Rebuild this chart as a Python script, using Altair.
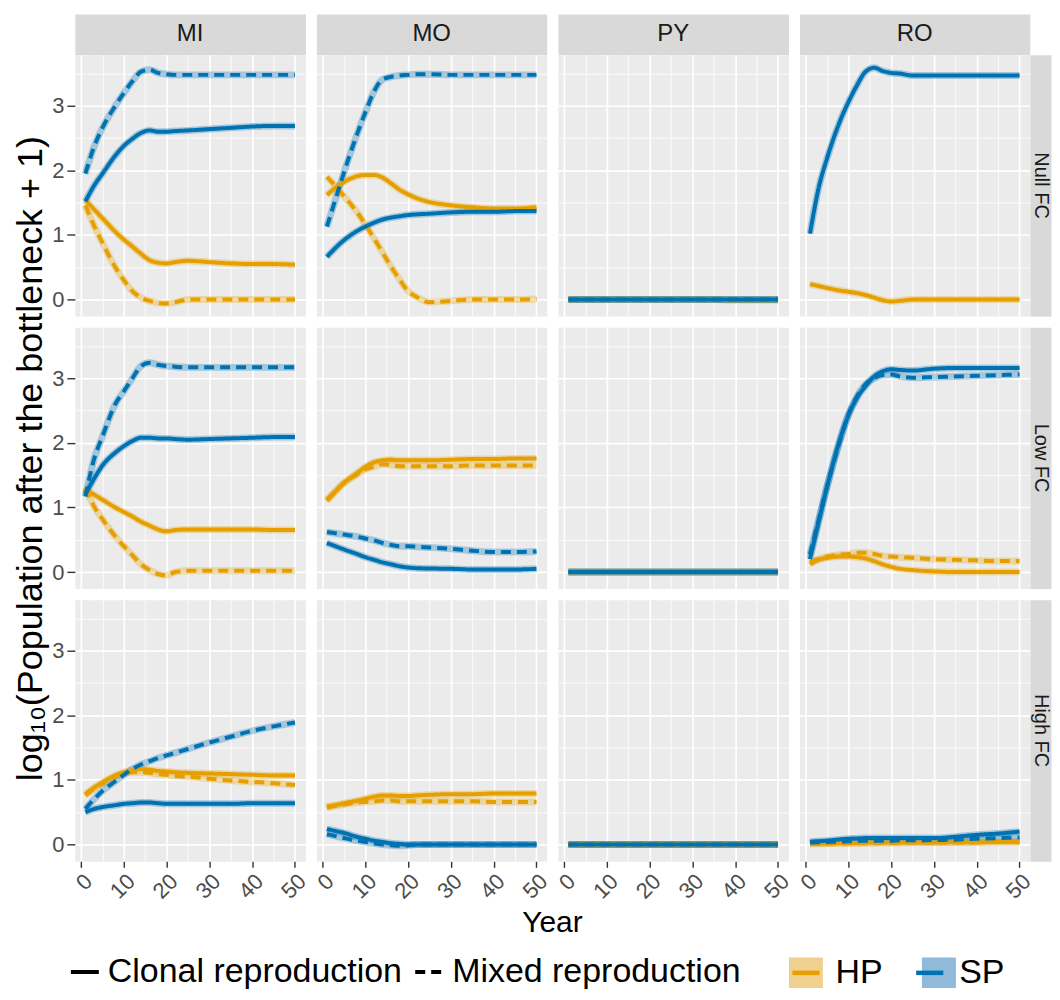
import altair as alt
import pandas as pd

FONT = "Liberation Sans"

YEARS = [1, 3, 5, 8, 10, 12, 14, 16, 18, 20, 22, 25, 30, 35, 40, 45, 50]
SITES = ["MI", "MO", "PY", "RO"]
FC_LEVELS = ["Null FC", "Low FC", "High FC"]
SPECIES = ["HP", "SP"]
KEY_VALUES = ["HP_k", "SP_k"]
REPRO = ["Clonal reproduction", "Mixed reproduction"]
LINE_COLORS = ["#E69F00", "#0072B2"]
KEY_FILLS = ["#EFD08F", "#8FBAD9"]
X_GRID = [0, 5, 10, 15, 20, 25, 30, 35, 40, 45, 50]
Y_GRID = [0, 0.5, 1, 1.5, 2, 2.5, 3, 3.5]
Y_TITLE = "log\u2081\u2080(Population after the bottleneck + 1)"
X_TITLE = "Year"

# ---------------- Null FC ----------------
MI_NULL_HP_C = [1.54, 1.40, 1.26, 1.05, 0.93, 0.82, 0.71, 0.61, 0.57, 0.56, 0.58, 0.60, 0.58, 0.56, 0.55, 0.55, 0.54]
MI_NULL_HP_M = [1.46, 1.15, 0.88, 0.50, 0.30, 0.13, 0.03, -0.02, -0.05, -0.06, -0.04, 0.00, 0.00, 0.00, 0.00, 0.00, 0.00]
MI_NULL_SP_C = [1.52, 1.76, 1.95, 2.23, 2.38, 2.49, 2.58, 2.62, 2.60, 2.60, 2.61, 2.62, 2.64, 2.66, 2.68, 2.69, 2.69]
MI_NULL_SP_M = [1.95, 2.36, 2.66, 3.00, 3.20, 3.38, 3.53, 3.56, 3.51, 3.49, 3.48, 3.48, 3.48, 3.48, 3.48, 3.48, 3.48]

MO_NULL_HP_C = [1.62, 1.73, 1.82, 1.91, 1.93, 1.93, 1.89, 1.80, 1.70, 1.63, 1.57, 1.51, 1.46, 1.43, 1.41, 1.41, 1.43]
MO_NULL_HP_M = [1.90, 1.76, 1.60, 1.36, 1.16, 0.95, 0.73, 0.51, 0.31, 0.13, 0.04, -0.04, -0.02, 0.00, 0.00, 0.00, 0.01]
MO_NULL_SP_C = [0.66, 0.80, 0.92, 1.06, 1.13, 1.19, 1.24, 1.27, 1.29, 1.31, 1.32, 1.33, 1.35, 1.36, 1.36, 1.37, 1.37]
MO_NULL_SP_M = [1.13, 1.55, 1.97, 2.55, 2.90, 3.22, 3.41, 3.45, 3.47, 3.48, 3.49, 3.49, 3.48, 3.48, 3.48, 3.48, 3.48]

PY_NULL_HP_C = [0.00, 0.00, 0.00, 0.00, 0.00, 0.00, 0.00, 0.00, 0.00, 0.00, 0.00, 0.00, 0.00, 0.00, 0.00, 0.00, 0.00]
PY_NULL_HP_M = [0.00, 0.00, 0.00, 0.00, 0.00, 0.00, 0.00, 0.00, 0.00, 0.00, 0.00, 0.00, 0.00, 0.00, -0.01, -0.01, -0.01]
PY_NULL_SP_C = [0.00, 0.00, 0.00, 0.00, 0.00, 0.00, 0.00, 0.00, 0.00, 0.00, 0.00, 0.00, 0.00, 0.00, 0.00, 0.00, 0.00]
PY_NULL_SP_M = [0.00, 0.00, 0.00, 0.00, 0.00, 0.00, 0.00, 0.00, 0.00, 0.00, 0.00, 0.00, 0.00, 0.00, 0.00, 0.00, 0.00]

RO_NULL_HP_C = [0.24, 0.21, 0.18, 0.14, 0.12, 0.10, 0.07, 0.03, -0.01, -0.03, -0.02, 0.00, 0.00, 0.00, 0.00, 0.00, 0.00]
RO_NULL_SP_C = [1.02, 1.72, 2.19, 2.76, 3.06, 3.32, 3.53, 3.59, 3.54, 3.51, 3.50, 3.47, 3.47, 3.47, 3.47, 3.47, 3.47]

# ---------------- Low FC ----------------
MI_LOW_HP_C = [1.28, 1.20, 1.12, 1.00, 0.93, 0.86, 0.78, 0.72, 0.66, 0.63, 0.65, 0.66, 0.66, 0.66, 0.66, 0.65, 0.65]
MI_LOW_HP_M = [1.30, 1.02, 0.82, 0.55, 0.40, 0.26, 0.12, 0.03, -0.03, -0.05, 0.00, 0.02, 0.02, 0.02, 0.02, 0.02, 0.02]
MI_LOW_SP_C = [1.20, 1.44, 1.65, 1.85, 1.95, 2.03, 2.08, 2.08, 2.07, 2.07, 2.06, 2.05, 2.06, 2.07, 2.08, 2.09, 2.09]
MI_LOW_SP_M = [1.17, 1.74, 2.10, 2.60, 2.80, 3.00, 3.19, 3.24, 3.21, 3.19, 3.18, 3.17, 3.17, 3.17, 3.17, 3.17, 3.17]

MO_LOW_HP_C = [1.10, 1.25, 1.38, 1.53, 1.63, 1.70, 1.73, 1.74, 1.73, 1.73, 1.73, 1.73, 1.74, 1.75, 1.75, 1.76, 1.76]
MO_LOW_HP_M = [1.12, 1.25, 1.38, 1.51, 1.59, 1.63, 1.67, 1.66, 1.64, 1.64, 1.64, 1.64, 1.64, 1.65, 1.65, 1.65, 1.65]
MO_LOW_SP_C = [0.45, 0.40, 0.35, 0.28, 0.23, 0.19, 0.15, 0.12, 0.09, 0.07, 0.06, 0.055, 0.05, 0.04, 0.04, 0.04, 0.05]
MO_LOW_SP_M = [0.62, 0.60, 0.58, 0.55, 0.52, 0.49, 0.45, 0.42, 0.40, 0.40, 0.39, 0.38, 0.36, 0.33, 0.31, 0.31, 0.32]

PY_LOW_HP_C = [0.00, 0.00, 0.00, 0.00, 0.00, 0.00, 0.00, 0.00, 0.00, 0.00, 0.00, 0.00, 0.00, 0.00, 0.00, 0.00, 0.00]
PY_LOW_HP_M = [0.00, 0.00, 0.00, 0.00, 0.00, 0.00, 0.00, 0.00, 0.00, 0.00, 0.00, 0.00, 0.00, 0.00, 0.00, 0.00, 0.00]
PY_LOW_SP_C = [0.00, 0.00, 0.00, 0.00, 0.00, 0.00, 0.00, 0.00, 0.00, 0.00, 0.00, 0.00, 0.00, 0.00, 0.00, 0.00, 0.00]
PY_LOW_SP_M = [0.00, 0.00, 0.00, 0.00, 0.00, 0.00, 0.00, 0.00, 0.00, 0.00, 0.00, 0.00, 0.00, 0.00, 0.00, 0.00, 0.00]

RO_LOW_HP_C = [0.12, 0.19, 0.22, 0.24, 0.24, 0.23, 0.21, 0.17, 0.12, 0.08, 0.05, 0.03, 0.01, 0.00, 0.00, 0.00, 0.00]
RO_LOW_HP_M = [0.15, 0.20, 0.24, 0.27, 0.28, 0.30, 0.30, 0.28, 0.25, 0.24, 0.23, 0.22, 0.20, 0.19, 0.18, 0.17, 0.17]
RO_LOW_SP_C = [0.20, 0.77, 1.32, 2.05, 2.43, 2.70, 2.88, 3.03, 3.11, 3.14, 3.13, 3.12, 3.15, 3.16, 3.16, 3.16, 3.16]
RO_LOW_SP_M = [0.27, 0.80, 1.33, 2.03, 2.44, 2.72, 2.91, 3.00, 3.05, 3.06, 3.03, 3.01, 3.02, 3.03, 3.04, 3.05, 3.06]

# ---------------- High FC ----------------
MI_HIGH_HP_C = [0.78, 0.88, 0.96, 1.07, 1.12, 1.15, 1.17, 1.16, 1.14, 1.13, 1.12, 1.11, 1.10, 1.09, 1.08, 1.07, 1.07]
MI_HIGH_HP_M = [0.76, 0.86, 0.95, 1.05, 1.10, 1.12, 1.12, 1.11, 1.09, 1.08, 1.06, 1.05, 1.02, 0.99, 0.97, 0.95, 0.92]
MI_HIGH_SP_C = [0.50, 0.55, 0.58, 0.61, 0.63, 0.64, 0.65, 0.65, 0.64, 0.63, 0.63, 0.63, 0.63, 0.63, 0.64, 0.64, 0.64]
MI_HIGH_SP_M = [0.55, 0.70, 0.83, 0.98, 1.08, 1.17, 1.24, 1.29, 1.34, 1.38, 1.42, 1.48, 1.58, 1.67, 1.76, 1.83, 1.89]

MO_HIGH_HP_C = [0.59, 0.61, 0.64, 0.68, 0.71, 0.74, 0.76, 0.76, 0.75, 0.75, 0.76, 0.77, 0.78, 0.78, 0.79, 0.79, 0.79]
MO_HIGH_HP_M = [0.57, 0.60, 0.62, 0.65, 0.66, 0.67, 0.68, 0.68, 0.67, 0.67, 0.67, 0.67, 0.67, 0.67, 0.66, 0.66, 0.66]
MO_HIGH_SP_C = [0.24, 0.21, 0.18, 0.12, 0.09, 0.06, 0.04, 0.02, 0.01, 0.00, 0.00, 0.00, 0.00, 0.00, 0.00, 0.00, 0.00]
MO_HIGH_SP_M = [0.16, 0.13, 0.10, 0.06, 0.04, 0.02, 0.00, -0.01, -0.02, -0.01, 0.00, 0.00, 0.00, 0.00, 0.00, 0.00, 0.00]

PY_HIGH_HP_C = [0.00, 0.00, 0.00, 0.00, 0.00, 0.00, 0.00, 0.00, 0.00, 0.00, 0.00, 0.00, 0.00, 0.00, 0.00, 0.00, 0.00]
PY_HIGH_HP_M = [0.00, 0.00, 0.00, 0.00, 0.00, 0.00, 0.00, 0.00, 0.00, 0.00, 0.00, 0.00, 0.00, 0.00, 0.00, 0.00, 0.00]
PY_HIGH_SP_C = [0.00, 0.00, 0.00, 0.00, 0.00, 0.00, 0.00, 0.00, 0.00, 0.00, 0.00, 0.00, 0.00, 0.00, 0.00, 0.00, 0.00]
PY_HIGH_SP_M = [0.00, 0.00, 0.00, 0.00, 0.00, 0.00, 0.00, 0.00, 0.00, 0.00, 0.00, 0.00, 0.00, 0.00, 0.00, 0.00, 0.00]

RO_HIGH_HP_C = [0.02, 0.02, 0.02, 0.025, 0.025, 0.025, 0.03, 0.03, 0.03, 0.03, 0.03, 0.03, 0.03, 0.035, 0.035, 0.04, 0.04]
RO_HIGH_HP_M = [0.01, 0.01, 0.015, 0.015, 0.02, 0.02, 0.02, 0.02, 0.025, 0.025, 0.025, 0.03, 0.03, 0.03, 0.035, 0.04, 0.04]
RO_HIGH_SP_C = [0.04, 0.05, 0.06, 0.08, 0.09, 0.095, 0.10, 0.10, 0.10, 0.10, 0.10, 0.10, 0.10, 0.12, 0.15, 0.17, 0.20]
RO_HIGH_SP_M = [0.03, 0.035, 0.04, 0.045, 0.05, 0.055, 0.06, 0.06, 0.06, 0.06, 0.065, 0.065, 0.07, 0.075, 0.09, 0.10, 0.11]

SERIES = [
    ("Null FC", "MI", "HP", REPRO[0], MI_NULL_HP_C), ("Null FC", "MI", "HP", REPRO[1], MI_NULL_HP_M),
    ("Null FC", "MI", "SP", REPRO[0], MI_NULL_SP_C), ("Null FC", "MI", "SP", REPRO[1], MI_NULL_SP_M),
    ("Null FC", "MO", "HP", REPRO[0], MO_NULL_HP_C), ("Null FC", "MO", "HP", REPRO[1], MO_NULL_HP_M),
    ("Null FC", "MO", "SP", REPRO[0], MO_NULL_SP_C), ("Null FC", "MO", "SP", REPRO[1], MO_NULL_SP_M),
    ("Null FC", "PY", "HP", REPRO[0], PY_NULL_HP_C), ("Null FC", "PY", "HP", REPRO[1], PY_NULL_HP_M),
    ("Null FC", "PY", "SP", REPRO[0], PY_NULL_SP_C), ("Null FC", "PY", "SP", REPRO[1], PY_NULL_SP_M),
    ("Null FC", "RO", "HP", REPRO[0], RO_NULL_HP_C), ("Null FC", "RO", "SP", REPRO[0], RO_NULL_SP_C),
    ("Low FC", "MI", "HP", REPRO[0], MI_LOW_HP_C), ("Low FC", "MI", "HP", REPRO[1], MI_LOW_HP_M),
    ("Low FC", "MI", "SP", REPRO[0], MI_LOW_SP_C), ("Low FC", "MI", "SP", REPRO[1], MI_LOW_SP_M),
    ("Low FC", "MO", "HP", REPRO[0], MO_LOW_HP_C), ("Low FC", "MO", "HP", REPRO[1], MO_LOW_HP_M),
    ("Low FC", "MO", "SP", REPRO[0], MO_LOW_SP_C), ("Low FC", "MO", "SP", REPRO[1], MO_LOW_SP_M),
    ("Low FC", "PY", "HP", REPRO[0], PY_LOW_HP_C), ("Low FC", "PY", "HP", REPRO[1], PY_LOW_HP_M),
    ("Low FC", "PY", "SP", REPRO[0], PY_LOW_SP_C), ("Low FC", "PY", "SP", REPRO[1], PY_LOW_SP_M),
    ("Low FC", "RO", "HP", REPRO[0], RO_LOW_HP_C), ("Low FC", "RO", "HP", REPRO[1], RO_LOW_HP_M),
    ("Low FC", "RO", "SP", REPRO[0], RO_LOW_SP_C), ("Low FC", "RO", "SP", REPRO[1], RO_LOW_SP_M),
    ("High FC", "MI", "HP", REPRO[0], MI_HIGH_HP_C), ("High FC", "MI", "HP", REPRO[1], MI_HIGH_HP_M),
    ("High FC", "MI", "SP", REPRO[0], MI_HIGH_SP_C), ("High FC", "MI", "SP", REPRO[1], MI_HIGH_SP_M),
    ("High FC", "MO", "HP", REPRO[0], MO_HIGH_HP_C), ("High FC", "MO", "HP", REPRO[1], MO_HIGH_HP_M),
    ("High FC", "MO", "SP", REPRO[0], MO_HIGH_SP_C), ("High FC", "MO", "SP", REPRO[1], MO_HIGH_SP_M),
    ("High FC", "PY", "HP", REPRO[0], PY_HIGH_HP_C), ("High FC", "PY", "HP", REPRO[1], PY_HIGH_HP_M),
    ("High FC", "PY", "SP", REPRO[0], PY_HIGH_SP_C), ("High FC", "PY", "SP", REPRO[1], PY_HIGH_SP_M),
    ("High FC", "RO", "HP", REPRO[0], RO_HIGH_HP_C), ("High FC", "RO", "HP", REPRO[1], RO_HIGH_HP_M),
    ("High FC", "RO", "SP", REPRO[0], RO_HIGH_SP_C), ("High FC", "RO", "SP", REPRO[1], RO_HIGH_SP_M),
]

rows = []
for fc, site, sp, rep, vals in SERIES:
    for yr, v in zip(YEARS, vals):
        rows.append({"fc": fc, "site": site, "species": sp, "repro": rep,
                     "series": sp + " " + rep, "year": yr, "value": v})
df = pd.DataFrame(rows)

# ---------------- layout / style ----------------
PANEL_W = 231
PANEL_H = 262
STRIP_H = 41
GAP = 10.5
RSTRIP_W = 21
PANEL_BG = "#EBEBEB"
STRIP_BG = "#D9D9D9"
LEG_FONT = 34
HP_LABEL_W = 47.2  # rendered width of the "HP" legend label


def cond(test, a, b):
    return {"condition": {"test": test, "value": a}, "value": b}


X_SCALE = alt.Scale(domain=[-1.45, 52.45], nice=False, zero=False)
Y_SCALE = alt.Scale(domain=[-0.26, 3.79], nice=False, zero=False)

LEG_Y = 941
COLOR_LEGEND = alt.Legend(
    title=None, orient="none", legendX=713, legendY=LEG_Y, direction="horizontal",
    symbolType="M-0.8,0H0.8", symbolSize=1156, symbolStrokeWidth=4.5, symbolOpacity=1,
    labelFontSize=LEG_FONT, labelColor="black", labelOffset=10, columnPadding=23,
    labelLimit=1000,
)
FILL_LEGEND = alt.Legend(
    title=None, orient="none", legendX=713, legendY=LEG_Y, direction="horizontal",
    symbolType="M-1,-0.9H1V0.9H-1Z", symbolSize=1156, symbolStrokeWidth=4.5,
    symbolStrokeColor="transparent", symbolOpacity=1,
    labelFontSize=LEG_FONT, labelOffset=0, columnPadding=10 + HP_LABEL_W + 23,
    labelLimit=1000, labelExpr="''",
)
DASH_LEGEND = alt.Legend(
    title=None, orient="none", legendX=-7, legendY=LEG_Y + 2, direction="horizontal",
    symbolType="M-1,0H1", symbolSize=784, symbolStrokeWidth=4,
    symbolStrokeColor="black",
    labelFontSize=LEG_FONT, labelColor="black", labelOffset=6, columnPadding=5,
    labelLimit=1000,
)


def x_axis(bottom, with_title):
    kw = dict(values=X_GRID, grid=True, gridColor="white",
              gridWidth=cond("datum.value % 10 === 0", 1.7, 0.8),
              domain=False, title=None)
    if bottom:
        kw.update(labels=True, ticks=True, tickSize=6, tickColor="#333333", tickWidth=1.4,
                  tickOpacity=cond("datum.value % 10 === 0", 1, 0),
                  labelExpr="datum.value % 10 === 0 ? datum.label : ''",
                  labelAngle=315, labelAlign="right", labelBaseline="top",
                  labelFontSize=22, labelColor="#4D4D4D", labelPadding=3,
                  labelOverlap=False, labelFlush=False)
    else:
        kw.update(labels=False, ticks=False)
    if with_title:
        kw.update(title=X_TITLE, titleFontSize=30, titleFontWeight="normal",
                  titleColor="black", titleX=PANEL_W + 5, titleY=70,
                  titleAlign="center", titleBaseline="alphabetic", titleAngle=0)
    return alt.Axis(**kw)


def y_axis(left, with_title):
    kw = dict(values=Y_GRID, grid=True, gridColor="white",
              gridWidth=cond("datum.value % 1 === 0", 1.7, 0.8),
              domain=False, title=None)
    if left:
        kw.update(labels=True, ticks=True, tickSize=8, tickColor="#333333", tickWidth=1.4,
                  tickOpacity=cond("datum.value % 1 === 0", 1, 0),
                  labelExpr="datum.value % 1 === 0 ? format(datum.value, 'd') : ''",
                  labelFontSize=22, labelColor="#4D4D4D", labelPadding=3,
                  labelOverlap=False, labelFlush=False)
    else:
        kw.update(labels=False, ticks=False)
    if with_title:
        kw.update(title=Y_TITLE, titleFontSize=36, titleFontWeight="normal",
                  titleColor="black", titleX=-33, titleY=PANEL_H / 2,
                  titleAlign="center", titleBaseline="alphabetic", titleAngle=270)
    return alt.Axis(**kw)


def panel(fc, site, ci, ri):
    sub = df[(df.fc == fc) & (df.site == site)]
    x = alt.X("year:Q", scale=X_SCALE, axis=x_axis(ri == 2, ri == 2 and ci == 1))
    y = alt.Y("value:Q", scale=Y_SCALE, axis=y_axis(ci == 0, ri == 1 and ci == 0))
    color = alt.Color("species:N", scale=alt.Scale(domain=SPECIES, range=LINE_COLORS),
                      legend=COLOR_LEGEND)
    dash = alt.StrokeDash("repro:N", scale=alt.Scale(domain=REPRO, range=[[1, 0], [10, 6]]),
                          legend=DASH_LEGEND)
    base = alt.Chart(sub)
    halo = base.mark_line(strokeWidth=7, strokeOpacity=0.3, interpolate="monotone").encode(
        x=x, y=y, color=color, detail="series:N")
    lines = base.mark_line(strokeWidth=4, interpolate="monotone").encode(
        x=x, y=y, color=color, strokeDash=dash, detail="series:N")
    layers = [halo, lines]
    if ri == 0 and ci == 0:
        key = alt.Chart(pd.DataFrame({"key": KEY_VALUES})).mark_square(size=10).encode(
            fill=alt.Fill("key:N", scale=alt.Scale(domain=KEY_VALUES, range=KEY_FILLS),
                          legend=FILL_LEGEND)
        ).transform_filter("false")
        layers.insert(0, key)
    return alt.layer(*layers).properties(
        width=PANEL_W, height=PANEL_H,
        view=alt.ViewBackground(fill=PANEL_BG, stroke="transparent"))


def strip(label, w, h, angle, size):
    d = pd.DataFrame({"lab": [label]})
    return alt.Chart(d).mark_text(fontSize=size, color="#1A1A1A", angle=angle, font=FONT,
                                  baseline="middle", align="center").encode(
        x=alt.X("lab:N", axis=None), y=alt.Y("lab:N", axis=None), text="lab:N"
    ).properties(width=w, height=h,
                 view=alt.ViewBackground(fill=STRIP_BG, stroke="transparent"))


def blank(w, h):
    return alt.Chart(pd.DataFrame({"v": [0]})).mark_point(opacity=0).properties(
        width=w, height=h, view=alt.ViewBackground(fill="white", stroke="transparent"))


COL_KIND = ["P", "G", "P", "G", "P", "G", "P", "R"]
COL_W = {"P": PANEL_W, "G": GAP, "R": RSTRIP_W}

cells = []
for k, kind in enumerate(COL_KIND):
    if kind == "P":
        cells.append(strip(SITES[k // 2], PANEL_W, STRIP_H, 0, 24))
    else:
        cells.append(blank(COL_W[kind], STRIP_H))
for ri, fc in enumerate(FC_LEVELS):
    if ri > 0:
        for kind in COL_KIND:
            cells.append(blank(COL_W[kind], GAP))
    for k, kind in enumerate(COL_KIND):
        if kind == "P":
            cells.append(panel(fc, SITES[k // 2], k // 2, ri))
        elif kind == "G":
            cells.append(blank(GAP, PANEL_H))
        else:
            cells.append(strip(fc, RSTRIP_W, PANEL_H, 90, 20))

chart = alt.concat(*cells, columns=len(COL_KIND), spacing=0, bounds="flush", align="each").resolve_scale(
    color="shared", strokeDash="shared", fill="shared"
).resolve_legend(color="shared", strokeDash="shared", fill="shared").properties(
    padding={"left": 4, "top": 4, "right": 0, "bottom": 0}
).configure(font=FONT, background="white").configure_view(stroke="transparent").configure_legend(
    labelFont=FONT, symbolBaseStrokeColor="black"
)

chart.save("out.html", embed_options={"renderer": "svg", "actions": False})
